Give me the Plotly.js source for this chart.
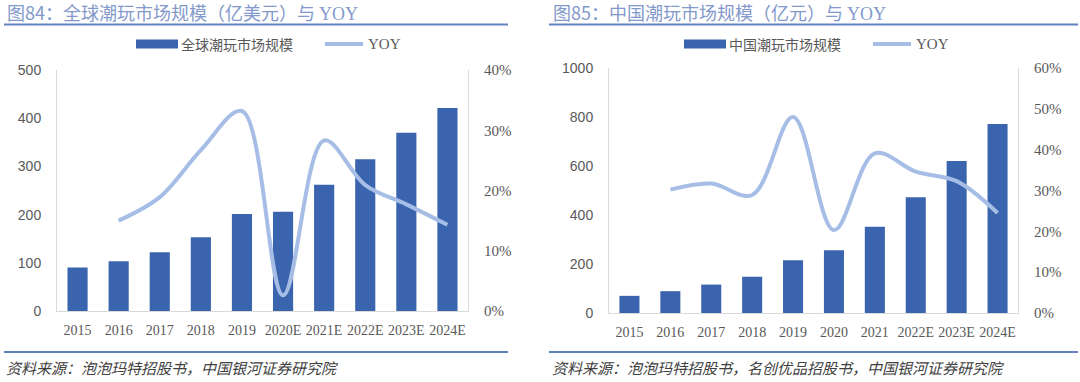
<!DOCTYPE html>
<html><head><meta charset="utf-8">
<script src="https://cdn.plot.ly/plotly-3.0.1.min.js"></script>
<style>html,body{margin:0;padding:0;background:#fff}#chart{width:1080px;height:382px}</style>
</head><body><div id="chart"></div><script>
// ---- data ----
const yearsGlobal = ['2015','2016','2017','2018','2019','2020E','2021E','2022E','2023E','2024E'];
const globalMarket = [90, 103, 122, 153, 201, 206, 262, 315, 370, 421];
const globalYoy = [null, 0.150, 0.189, 0.267, 0.332, 0.026, 0.283, 0.209, 0.177, 0.143];
const yearsChina = ['2015','2016','2017','2018','2019','2020','2021','2022E','2023E','2024E'];
const chinaMarket = [70, 89, 116, 148, 215, 256, 352, 472, 620, 771];
const chinaYoy = [null, 0.302, 0.317, 0.289, 0.480, 0.203, 0.391, 0.346, 0.323, 0.245];
const leftTicks = [0, 100, 200, 300, 400, 500];
const pctTicksGlobal = [0, 0.1, 0.2, 0.3, 0.4];
const rightTicks = [0, 200, 400, 600, 800, 1000];
const pctTicksChina = [0, 0.1, 0.2, 0.3, 0.4, 0.5, 0.6];
const titleCn = ['图84：全球潮玩市场规模（亿美元）与 ', '图85：中国潮玩市场规模（亿元）与 '];
const sources = ['资料来源：泡泡玛特招股书，中国银河证券研究院', '资料来源：泡泡玛特招股书，名创优品招股书，中国银河证券研究院'];
const barNames = ['全球潮玩市场规模', '中国潮玩市场规模'];
const lineName = 'YOY';

// ---- styles ----
const W = 1080, H = 382;
const px = v => v / W, py = v => 1 - v / H;
const BAR = '#3A64AD', LINE = '#A6BEE6', AXIS = '#D9D9D9', TXT = '#595959';
const CJK = '"Noto Sans CJK SC", "Noto Sans", sans-serif';
const SERIF = '"Liberation Serif", "DejaVu Serif", serif';
const SANS = '"Liberation Sans", "Noto Sans", sans-serif';

const traces = [
  {type:'bar', x: yearsGlobal, y: globalMarket, name: barNames[0], xaxis:'x', yaxis:'y',
   marker:{color:BAR}, hoverinfo:'skip'},
  {type:'scatter', mode:'lines', x: yearsGlobal, y: globalYoy, name:lineName, xaxis:'x', yaxis:'y2',
   line:{color:LINE, width:4, shape:'spline', smoothing:1}, hoverinfo:'skip'},
  {type:'bar', x: yearsChina, y: chinaMarket, name: barNames[1], xaxis:'x2', yaxis:'y3',
   marker:{color:BAR}, hoverinfo:'skip'},
  {type:'scatter', mode:'lines', x: yearsChina, y: chinaYoy, name:lineName, xaxis:'x2', yaxis:'y4',
   line:{color:LINE, width:4, shape:'spline', smoothing:1}, hoverinfo:'skip'}
];

const xCommon = {type:'category', showline:true, linecolor:AXIS, linewidth:1, ticks:'', showgrid:false,
  zeroline:false, tickfont:{family:SERIF, size:14, color:TXT}, ticklabelstandoff:6, fixedrange:true};
const yLeft = {showline:true, linecolor:AXIS, linewidth:1, ticks:'', showgrid:false, zeroline:false,
  tickfont:{family:SANS, size:14, color:TXT}, ticklabelstandoff:12, fixedrange:true};
const yRight = {showline:true, linecolor:AXIS, linewidth:1, ticks:'', showgrid:false, zeroline:false,
  tickfont:{family:SERIF, size:15, color:TXT}, ticklabelstandoff:12, tickformat:'.0%', side:'right', fixedrange:true};

// custom legend (wide bar swatch + line swatch), positioned in pixels
function legendItems(x0, yc, barName) {
  const shapes = [
    {type:'rect', xref:'paper', yref:'paper', x0:px(x0), x1:px(x0+42), y0:py(yc+4.5), y1:py(yc-4.5),
     fillcolor:BAR, line:{width:0}},
    {type:'line', xref:'paper', yref:'paper', x0:px(x0+189), x1:px(x0+227), y0:py(yc), y1:py(yc),
     line:{color:LINE, width:4}}
  ];
  const anns = [
    {xref:'paper', yref:'paper', x:px(x0+43), y:py(yc), xanchor:'left', yanchor:'middle', showarrow:false,
     text:barName, font:{family:CJK, size:14, color:TXT}},
    {xref:'paper', yref:'paper', x:px(x0+230), y:py(yc), xanchor:'left', yanchor:'middle', showarrow:false,
     text:lineName, font:{family:SERIF, size:15, color:TXT}}
  ];
  return {shapes, anns};
}
const lg1 = legendItems(136, 44, barNames[0]);
const lg2 = legendItems(684, 44, barNames[1]);

const titleText = i => titleCn[i] + '<span style="font-family:' + "'Liberation Serif', serif" + '">' + lineName + '</span>';

const layout = {
  width: W, height: H, margin:{l:0, r:0, t:0, b:0}, paper_bgcolor:'#fff', plot_bgcolor:'#fff',
  bargap: 0.51, showlegend:false,
  xaxis: Object.assign({}, xCommon, {domain:[px(57), px(468)], anchor:'y'}),
  yaxis: Object.assign({}, yLeft, {domain:[py(311), py(70)], range:[0, 500], tickvals:leftTicks, anchor:'x'}),
  yaxis2: Object.assign({}, yRight, {overlaying:'y', anchor:'x', range:[0, 0.4], tickvals:pctTicksGlobal}),
  xaxis2: Object.assign({}, xCommon, {domain:[px(609), px(1018)], anchor:'y3'}),
  yaxis3: Object.assign({}, yLeft, {domain:[py(313), py(68)], range:[0, 1000], tickvals:rightTicks, anchor:'x2'}),
  yaxis4: Object.assign({}, yRight, {overlaying:'y3', anchor:'x2', range:[0, 0.6], tickvals:pctTicksChina}),
  shapes: [
    {type:'line', xref:'paper', yref:'paper', x0:px(4), x1:px(508), y0:py(24.5), y1:py(24.5), line:{color:'#6281C0', width:2}},
    {type:'line', xref:'paper', yref:'paper', x0:px(549), x1:px(1078), y0:py(24.5), y1:py(24.5), line:{color:'#6281C0', width:2}},
    {type:'line', xref:'paper', yref:'paper', x0:px(4), x1:px(508), y0:py(352), y1:py(352), line:{color:'#6281C0', width:2}},
    {type:'line', xref:'paper', yref:'paper', x0:px(549), x1:px(1078), y0:py(352), y1:py(352), line:{color:'#6281C0', width:2}}
  ].concat(lg1.shapes, lg2.shapes),
  annotations: [
    {xref:'paper', yref:'paper', x:px(5), y:py(12), xanchor:'left', yanchor:'middle', showarrow:false,
     text:titleText(0), font:{family:CJK, size:18, color:'#8399CB'}},
    {xref:'paper', yref:'paper', x:px(551), y:py(12), xanchor:'left', yanchor:'middle', showarrow:false,
     text:titleText(1), font:{family:CJK, size:18, color:'#8399CB'}},
    {xref:'paper', yref:'paper', x:px(4), y:py(367), xanchor:'left', yanchor:'middle', showarrow:false,
     text:'<i>' + sources[0] + '</i>', font:{family:CJK, size:15, color:'#404040'}},
    {xref:'paper', yref:'paper', x:px(550), y:py(367), xanchor:'left', yanchor:'middle', showarrow:false,
     text:'<i>' + sources[1] + '</i>', font:{family:CJK, size:15, color:'#404040'}}
  ].concat(lg1.anns, lg2.anns)
};

Plotly.newPlot('chart', traces, layout, {displayModeBar:false, staticPlot:true});
</script></body></html>
